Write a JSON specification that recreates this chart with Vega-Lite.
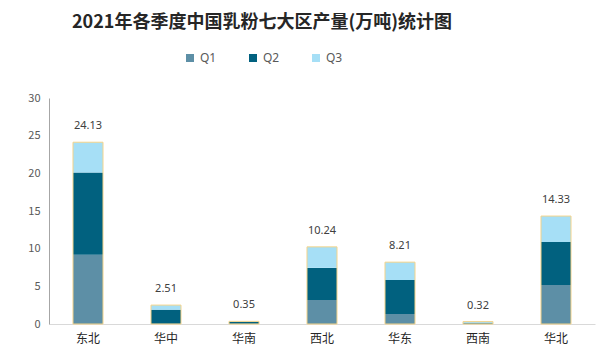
{
  "$schema": "https://vega.github.io/schema/vega-lite/v6.json",
  "width": 546,
  "height": 226,
  "autosize": {"type": "none"},
  "padding": {"left": 49, "top": 98, "right": 10, "bottom": 39},
  "background": "#ffffff",
  "config": {
    "view": {"stroke": null},
    "axisY": {"labelOverlap": false, "values": [0, 5, 10, 15, 20, 25, 30]}
  },
  "title": {
    "text": "2021年各季度中国乳粉七大区产量(万吨)统计图",
    "font": "Noto Sans CJK SC",
    "fontSize": 18,
    "fontWeight": "bold",
    "color": "#262626",
    "anchor": "middle",
    "dx": -60,
    "offset": 20
  },
  "datasets": {
    "quarters": [
      {"region": "东北", "quarter": "Q1", "value": 9.2},
      {"region": "东北", "quarter": "Q2", "value": 10.9},
      {"region": "东北", "quarter": "Q3", "value": 4.03},
      {"region": "华中", "quarter": "Q1", "value": 0.02},
      {"region": "华中", "quarter": "Q2", "value": 1.88},
      {"region": "华中", "quarter": "Q3", "value": 0.61},
      {"region": "华南", "quarter": "Q1", "value": 0.02},
      {"region": "华南", "quarter": "Q2", "value": 0.28},
      {"region": "华南", "quarter": "Q3", "value": 0.05},
      {"region": "西北", "quarter": "Q1", "value": 3.2},
      {"region": "西北", "quarter": "Q2", "value": 4.25},
      {"region": "西北", "quarter": "Q3", "value": 2.79},
      {"region": "华东", "quarter": "Q1", "value": 1.33},
      {"region": "华东", "quarter": "Q2", "value": 4.51},
      {"region": "华东", "quarter": "Q3", "value": 2.37},
      {"region": "西南", "quarter": "Q1", "value": 0.05},
      {"region": "西南", "quarter": "Q2", "value": 0.12},
      {"region": "西南", "quarter": "Q3", "value": 0.15},
      {"region": "华北", "quarter": "Q1", "value": 5.18},
      {"region": "华北", "quarter": "Q2", "value": 5.71},
      {"region": "华北", "quarter": "Q3", "value": 3.44}
    ],
    "totals": [
      {"region": "东北", "total": 24.13},
      {"region": "华中", "total": 2.51},
      {"region": "华南", "total": 0.35},
      {"region": "西北", "total": 10.24},
      {"region": "华东", "total": 8.21},
      {"region": "西南", "total": 0.32},
      {"region": "华北", "total": 14.33}
    ]
  },
  "encoding": {
    "x": {
      "field": "region",
      "type": "nominal",
      "sort": ["东北", "华中", "华南", "西北", "华东", "西南", "华北"],
      "scale": {"paddingInner": 0.615, "paddingOuter": 0.3075},
      "axis": {
        "title": null,
        "labelAngle": 0,
        "ticks": false,
        "domainColor": "#d9d9d9",
        "labelFont": "Noto Sans CJK SC",
        "labelFontSize": 12,
        "labelColor": "#262626",
        "labelPadding": 9
      }
    }
  },
  "layer": [
    {
      "data": {"name": "quarters"},
      "mark": {"type": "bar"},
      "encoding": {
        "y": {
          "field": "value",
          "type": "quantitative",
          "stack": "zero",
          "scale": {"domain": [0, 30], "nice": false},
          "axis": {
            "title": null,
            "values": [0, 5, 10, 15, 20, 25, 30],
            "labelOverlap": false,
            "grid": false,
            "ticks": false,
            "domain": true,
            "domainColor": "#a6a6a6",
            "labelFont": "Noto Sans CJK SC",
            "labelFontSize": 11,
            "labelColor": "#595959",
            "labelPadding": 9
          }
        },
        "color": {
          "field": "quarter",
          "type": "nominal",
          "scale": {"domain": ["Q1", "Q2", "Q3"], "range": ["#5d8fa6", "#01617f", "#a6dff6"]},
          "legend": {
            "title": null,
            "orient": "none",
            "direction": "horizontal",
            "columns": 3,
            "legendX": 135,
            "legendY": -46,
            "symbolType": "square",
            "symbolSize": 64,
            "columnPadding": 30,
            "labelFont": "Noto Sans",
            "labelFontSize": 12,
            "labelColor": "#595959",
            "labelOffset": 4
          }
        },
        "order": {"field": "quarter", "sort": "ascending"}
      }
    },
    {
      "data": {"name": "totals"},
      "mark": {"type": "bar", "fill": null, "fillOpacity": 0, "stroke": "#f5d48a", "strokeWidth": 1},
      "encoding": {
        "y": {
          "field": "total",
          "type": "quantitative",
          "axis": {"values": [0, 5, 10, 15, 20, 25, 30], "labelOverlap": false}
        }
      }
    },
    {
      "data": {"name": "totals"},
      "mark": {"type": "text", "baseline": "bottom", "dy": -11, "font": "Noto Sans", "fontSize": 11, "color": "#404040"},
      "encoding": {
        "y": {
          "field": "total",
          "type": "quantitative",
          "axis": {"values": [0, 5, 10, 15, 20, 25, 30], "labelOverlap": false}
        },
        "text": {"field": "total", "type": "quantitative", "format": ".2f"}
      }
    }
  ]
}
